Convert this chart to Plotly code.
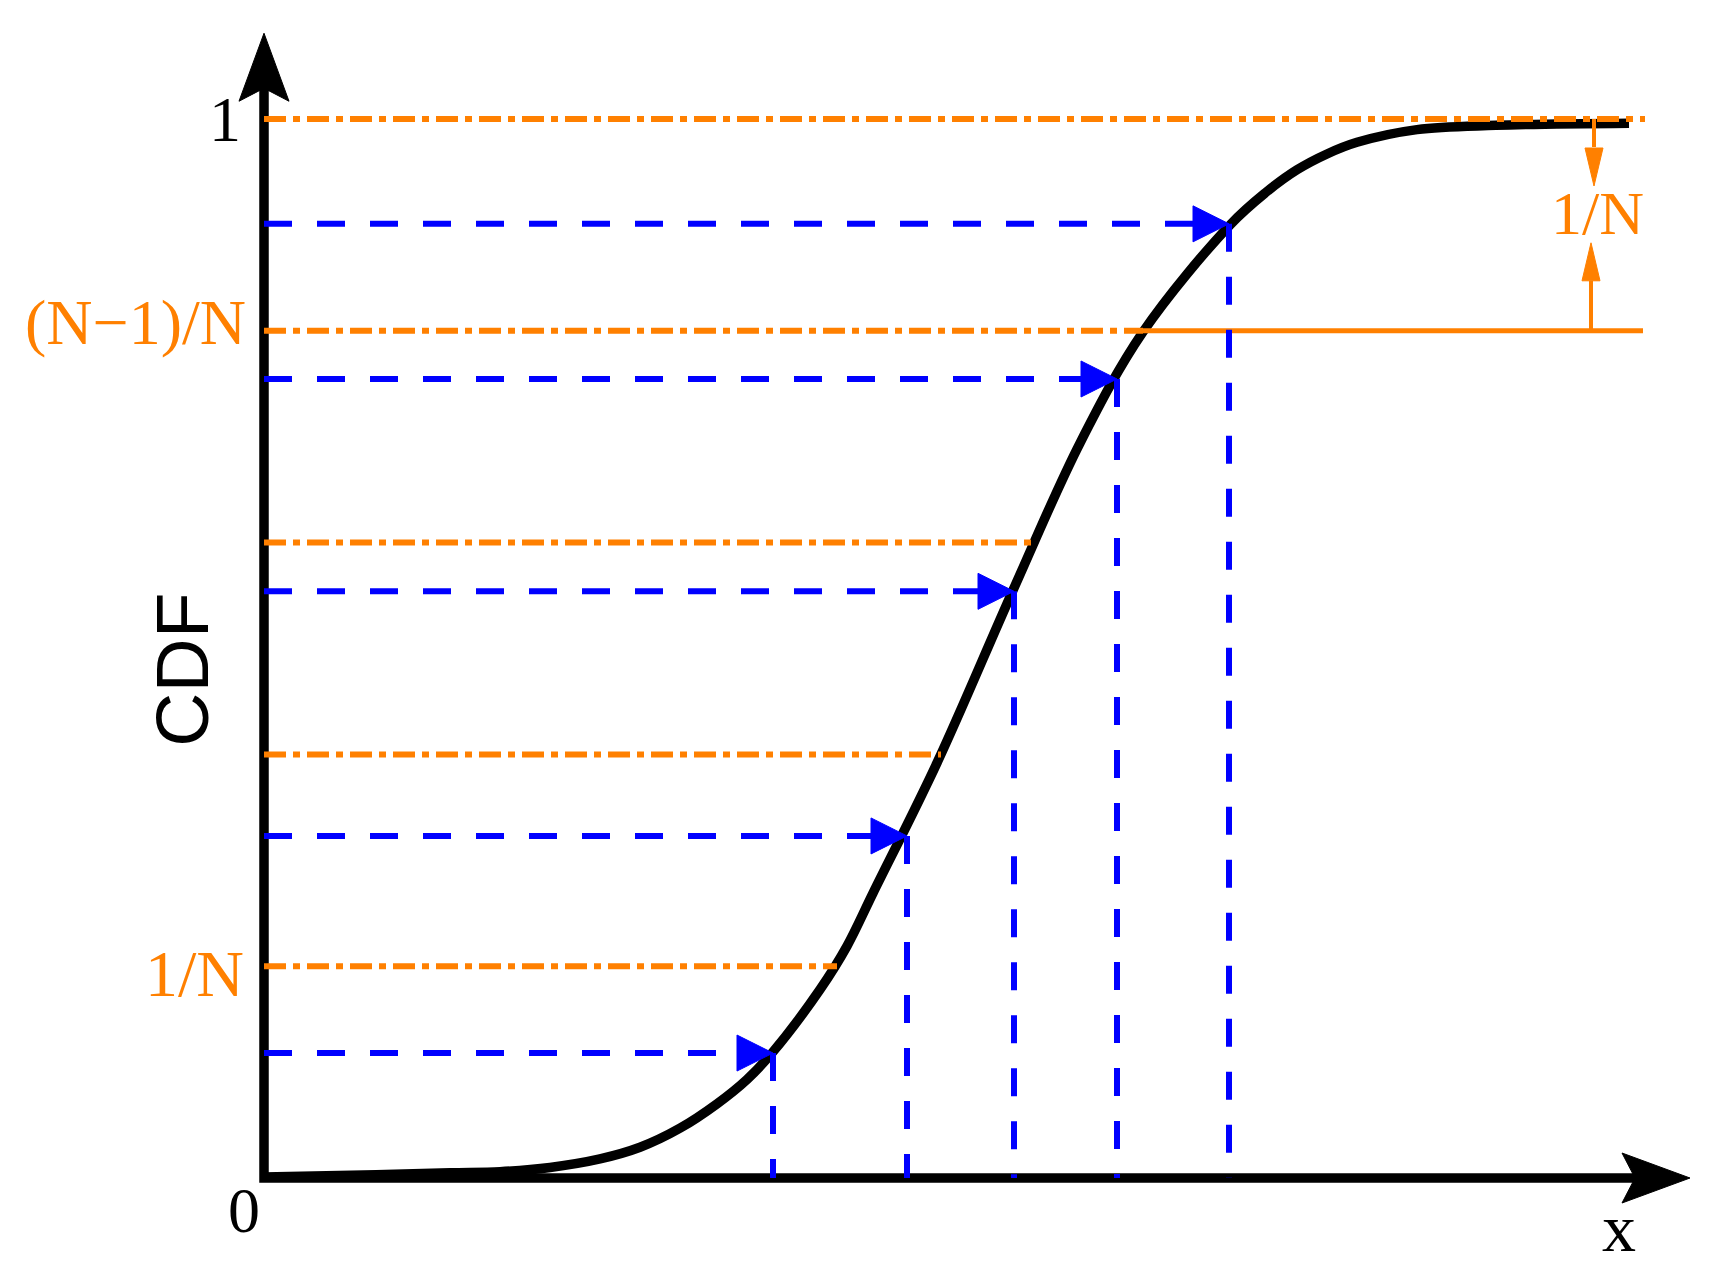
import plotly.graph_objects as go

# CDF curve (x in arbitrary units, y = CDF value)
curve_x = [0.00, 1.12, 1.86, 2.36, 2.86, 3.36, 3.76, 4.16, 4.53, 4.83, 5.08, 5.56, 5.83, 6.09,
           6.73, 7.49, 8.16, 8.79, 9.66, 10.01, 10.33, 10.63, 10.93, 11.53, 12.32, 13.65]
curve_y = [0.001, 0.003, 0.005, 0.006, 0.010, 0.018, 0.029, 0.047, 0.070, 0.093, 0.118, 0.178,
           0.219, 0.269, 0.392, 0.555, 0.694, 0.799, 0.900, 0.930, 0.952, 0.967, 0.978, 0.990,
           0.994, 0.996]

# stratum bounds k/N (N = 5) and where each bound line stops
level_y = [0.2, 0.4, 0.6, 0.8, 1.0]
level_x_end = [5.73, 6.77, 7.71, 8.79, 13.81]
gap_line_end = 13.79          # solid (N-1)/N line on the right

# one sample per stratum
sample_x = [5.09, 6.43, 7.50, 8.53, 9.65]
sample_y = [0.118, 0.323, 0.554, 0.7545, 0.901]

# axes extents
x_axis_end = 14.26
y_axis_end = 1.081

ORANGE = "#FF8000"
BLUE = "#0000FF"
BLACK = "#000000"

# page has an 8px body margin, so the figure is 16px smaller than the window
W, H = 1705, 1260
x_range = [-2.56, 14.49]
y_range = [-0.08498, 1.10482]
ux = W / (x_range[1] - x_range[0])   # px per x unit
uy = H / (y_range[1] - y_range[0])   # px per y unit


def head(tx, ty, direction, length, half, notch=0):
  """Polygon of an arrow head (sizes in px) with its tip at (tx, ty)."""
  if direction == "right":
    pts = [(tx, ty), (tx - length / ux, ty + half / uy), (tx - (length - notch) / ux, ty),
           (tx - length / ux, ty - half / uy)]
  elif direction == "up":
    pts = [(tx, ty), (tx + half / ux, ty - length / uy), (tx, ty - (length - notch) / uy),
           (tx - half / ux, ty - length / uy)]
  else:
    pts = [(tx, ty), (tx + half / ux, ty + length / uy), (tx, ty + (length - notch) / uy),
           (tx - half / ux, ty + length / uy)]
  pts.append(pts[0])
  return [p[0] for p in pts], [p[1] for p in pts]


def add_line(fig, x, y, color, width, dash="solid"):
  fig.add_trace(go.Scatter(x=x, y=y, mode="lines", hoverinfo="skip", showlegend=False,
                           line=dict(color=color, width=width, dash=dash)))


def add_head(fig, xs, ys, color):
  fig.add_trace(go.Scatter(x=xs, y=ys, mode="lines", fill="toself", fillcolor=color,
                           hoverinfo="skip", showlegend=False,
                           line=dict(color=color, width=1)))


fig = go.Figure()

# Axes with arrows
add_line(fig, [0, 0, x_axis_end - 52 / ux], [y_axis_end - 52 / uy, 0, 0], BLACK, 9.5)
add_head(fig, *head(0, y_axis_end, "up", 68, 25, 13), BLACK)
add_head(fig, *head(x_axis_end, 0, "right", 68, 25, 13), BLACK)

# CDF curve
fig.add_trace(go.Scatter(x=curve_x, y=curve_y, mode="lines", hoverinfo="skip", showlegend=False,
                         line=dict(color=BLACK, width=9.5, shape="spline", smoothing=1.0)))

# Stratum bounds
dashdot = "22px,7px,7px,7px"
for ly, lx in zip(level_y, level_x_end):
  add_line(fig, [0, lx], [ly, ly], ORANGE, 6, dashdot)
add_line(fig, [level_x_end[3], gap_line_end], [level_y[3], level_y[3]], ORANGE, 5)

# 1/N dimension arrows
add_line(fig, [13.30, 13.30], [level_y[4], level_y[4] - 28 / uy], ORANGE, 4)
add_head(fig, *head(13.30, level_y[4] - 67 / uy, "down", 38, 9), ORANGE)
add_line(fig, [13.27, 13.27], [level_y[3], level_y[3] + 50 / uy], ORANGE, 4)
add_head(fig, *head(13.27, level_y[3] + 88 / uy, "up", 38, 9), ORANGE)

# Samples: horizontal arrows to the curve, then down to the x axis
for sx, sy in zip(sample_x, sample_y):
  add_line(fig, [0, sx - 34 / ux], [sy, sy], BLUE, 6, "28px,25px")
  add_line(fig, [sx, sx], [sy, 0], BLUE, 6, "28px,25px")
  add_head(fig, *head(sx, sy, "right", 36, 18), BLUE)

serif = "Liberation Serif"
labels = [
  dict(text="1", x=-0.21, y=1.0, xanchor="right", font=dict(color=BLACK, size=64, family=serif)),
  dict(text="0", x=-0.02, y=-0.031, xanchor="right", font=dict(color=BLACK, size=64, family=serif)),
  dict(text="(N\u22121)/N", x=-0.16, y=0.808, xanchor="right",
       font=dict(color=ORANGE, size=64, family=serif)),
  dict(text="1/N", x=-0.18, y=0.193, xanchor="right",
       font=dict(color=ORANGE, size=66, family=serif)),
  dict(text="1/N", x=13.33, y=0.911, xanchor="center",
       font=dict(color=ORANGE, size=62, family=serif)),
  dict(text="x", x=13.55, y=-0.047, xanchor="center",
       font=dict(color=BLACK, size=68, family=serif)),
  dict(text="CDF", x=-0.82, y=0.48, xanchor="center", textangle=-90,
       font=dict(color=BLACK, size=75, family="Liberation Sans")),
]
for lab in labels:
  fig.add_annotation(xref="x", yref="y", showarrow=False, yanchor="middle", **lab)

fig.update_layout(
  width=W, height=H,
  margin=dict(l=0, r=0, t=0, b=0),
  paper_bgcolor="white", plot_bgcolor="white",
  xaxis=dict(visible=False, range=x_range, fixedrange=True),
  yaxis=dict(visible=False, range=y_range, fixedrange=True),
  showlegend=False,
)

fig.write_html("out.html")
